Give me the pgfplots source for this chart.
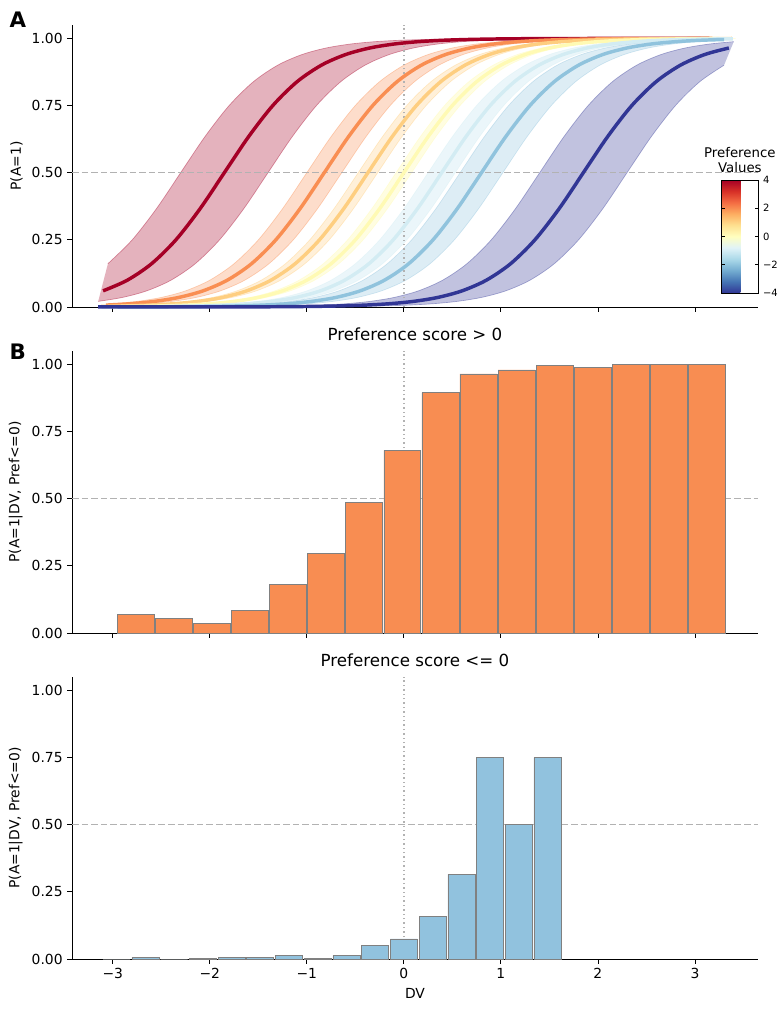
\documentclass[border=0pt]{standalone}
\usepackage{pgfplots}
\pgfplotsset{compat=1.18}
\usepackage{pgfplotstable}
\usepgfplotslibrary{fillbetween}
\usepackage{fontspec}
\setmainfont{DejaVu Sans}
\definecolor{c1}{RGB}{165,0,38}
\definecolor{c2}{RGB}{249,142,82}
\definecolor{c3}{RGB}{254,206,128}
\definecolor{c4}{RGB}{255,250,180}
\definecolor{c5}{RGB}{211,236,243}
\definecolor{c6}{RGB}{144,195,221}
\definecolor{c7}{RGB}{49,54,149}
\definecolor{barO}{RGB}{248,141,82}
\definecolor{barB}{RGB}{145,194,222}
\pgfplotstableread{
t p
-6 0.000002
-5 0.00002
-4.5 0.00005
-4 0.00015
-3.75 0.00026
-3.5 0.00045
-3.25 0.00078
-3 0.00136
-2.75 0.00236
-2.5 0.00409
-2.25 0.00703
-2 0.01213
-1.75 0.02086
-1.5 0.03557
-1.25 0.06006
-1 0.09975
-0.75 0.16110
-0.5 0.24974
-0.25 0.36586
0 0.5
0.25 0.63414
0.5 0.75026
0.75 0.83890
1 0.90025
1.25 0.93994
1.5 0.96443
1.75 0.97914
2 0.98787
2.25 0.99297
2.5 0.99591
2.75 0.99764
3 0.99864
3.25 0.99922
3.5 0.99955
3.75 0.99974
4 0.99985
4.5 0.99995
5 0.99998
6 1.0
}\base
\newcommand\band[5]{%
\addplot[smooth, name path=#1u, draw=#4, draw opacity=0.4, line width=0.5pt, restrict x to domain=-3.15:3.45] table[x expr=\thisrow{t}+#2-#3, y=p]{\base};
\addplot[smooth, name path=#1l, draw=#4, draw opacity=0.4, line width=0.5pt, restrict x to domain=-3.15:3.45] table[x expr=\thisrow{t}+#2+#3, y=p]{\base};
\addplot[fill=#4, fill opacity=#5, draw=none] fill between[of=#1u and #1l];
}
\newcommand\curve[2]{%
\addplot[smooth, #2, line width=2.6pt, restrict x to domain=-3.15:3.45] table[x expr=\thisrow{t}+#1, y=p]{\base};
}
\pgfplotsset{
  base/.style={
    width=514.5pt, height=211.5pt, scale only axis,
    xmin=-3.42, xmax=3.65, ymin=0, ymax=1.05,
    axis x line*=bottom, axis y line*=left,
    axis line style={black, line width=0.6pt},
    tick align=outside, major tick length=3.5pt,
    tick style={black, line width=0.6pt},
    xtick={-3,-2,-1,0,1,2,3},
    ytick={0,0.25,0.5,0.75,1},
    yticklabels={0.00,0.25,0.50,0.75,1.00},
    every tick label/.append style={font=\fontsize{10.4}{12}\selectfont},
    label style={font=\fontsize{10.4}{12}\selectfont},
    title style={font=\fontsize{12.5}{14}\selectfont, yshift=-2pt},
    clip=false,
  },
  refh/.style={gray!60, dash pattern=on 5pt off 2.2pt, line width=1.1pt},
  refv/.style={gray!60, dash pattern=on 1.1pt off 2.2pt, line width=1.1pt},
}
\begin{document}
\begin{tikzpicture}
% Panel A
\begin{axis}[base, at={(0,489pt)}, xticklabels={}, ylabel={P(A=1)},
  colormap={rdylbu}{rgb255=(49,54,149) rgb255=(69,117,180) rgb255=(116,173,209) rgb255=(171,217,233) rgb255=(224,243,248) rgb255=(255,255,191) rgb255=(254,224,144) rgb255=(253,174,97) rgb255=(244,109,67) rgb255=(215,48,39) rgb255=(165,0,38)},
  point meta min=-4, point meta max=4, colorbar,
  colorbar style={at={(parent axis.south west)}, anchor=south west, xshift=478.5pt, yshift=10.5pt,
    width=27.75pt, height=84.75pt, ytick={-4,-2,0,2,4}, yticklabels={−4,−2,0,2,4},
    yticklabel style={font=\fontsize{7.5}{9}\selectfont}, major tick length=2.5pt,
    title={Preference\\Values}, title style={align=center, font=\fontsize{10}{11}\selectfont, yshift=-4pt}}]
\band{a}{-1.85}{0.45}{c1}{0.3}
\band{b}{-0.82}{0.18}{c2}{0.3}
\band{c}{-0.37}{0.1}{c3}{0.3}
\band{d}{0.0}{0.08}{c4}{0.4}
\band{e}{0.39}{0.14}{c5}{0.45}
\band{f}{0.8}{0.22}{c6}{0.3}
\band{g}{1.85}{0.45}{c7}{0.3}
\addplot[refh] coordinates {(-3.42,0.5) (3.65,0.5)};
\addplot[refv] coordinates {(0,0) (0,1.05)};
\curve{-1.85}{c1}
\curve{-0.82}{c2}
\curve{-0.37}{c3}
\curve{0.0}{c4}
\curve{0.39}{c5}
\curve{0.8}{c6}
\curve{1.85}{c7}
\node[font=\bfseries\fontsize{16}{18}\selectfont] at (rel axis cs:-0.079,1.018) {A};
\end{axis}
% Panel B
\begin{axis}[base, at={(0,244.5pt)}, xticklabels={}, ylabel={P(A=1|DV, Pref<=0)}, title={Preference score > 0}]
\addplot[refh] coordinates {(-3.42,0.5) (3.65,0.5)};
\addplot[refv] coordinates {(0,0) (0,1.05)};
\addplot[ybar, bar width=0.38, bar shift=0pt, fill=barO, draw=gray, line width=0.4pt] coordinates {
(-2.764,0.07) (-2.3715,0.055) (-1.979,0.035) (-1.5865,0.085) (-1.194,0.18) (-0.8015,0.295)
(-0.409,0.485) (-0.0165,0.68) (0.376,0.895) (0.7685,0.965) (1.161,0.98) (1.5535,0.995)
(1.946,0.99) (2.3385,1.0) (2.731,1.0) (3.1235,1.0)};
\node[font=\bfseries\fontsize{16}{18}\selectfont] at (rel axis cs:-0.079,0.996) {B};
\end{axis}
% Panel C
\begin{axis}[base, at={(0,0)}, xticklabels={−3,−2,−1,0,1,2,3}, xlabel={DV}, ylabel={P(A=1|DV, Pref<=0)}, title={Preference score <= 0}]
\addplot[refh] coordinates {(-3.42,0.5) (3.65,0.5)};
\addplot[refv] coordinates {(0,0) (0,1.05)};
\addplot[ybar, bar width=0.278, bar shift=0pt, fill=barB, draw=gray, line width=0.4pt] coordinates {
(-2.96,0.0) (-2.664,0.006) (-2.368,0.0) (-2.072,0.003) (-1.776,0.007) (-1.48,0.007)
(-1.184,0.013) (-0.888,0.003) (-0.592,0.013) (-0.296,0.05) (0.0,0.075) (0.296,0.16)
(0.592,0.315) (0.888,0.75) (1.184,0.5) (1.48,0.75)};
\end{axis}
\pgfresetboundingbox
\path (-54pt,-39.75pt) rectangle (531pt,719.25pt);
\end{tikzpicture}
\end{document}
